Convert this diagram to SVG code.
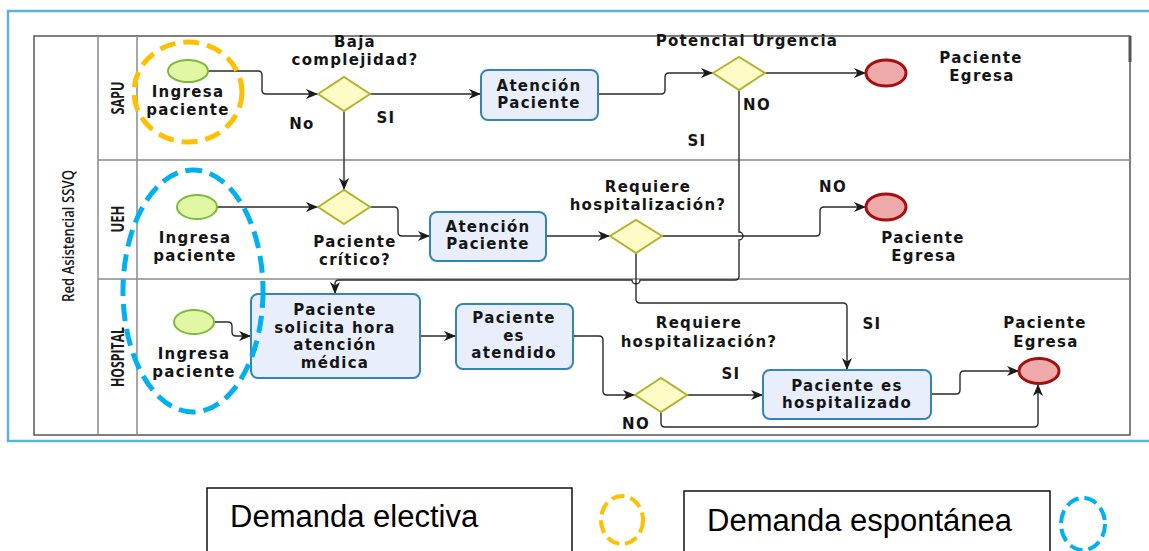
<svg xmlns="http://www.w3.org/2000/svg" width="1149" height="551" viewBox="0 0 1149 551">
  <style>
    .frame { fill: none; stroke: #5ab4d2; stroke-width: 2.5; }
    .pool { fill: #ffffff; stroke: #555555; stroke-width: 1.5; }
    .lane { stroke: #8a8a8a; stroke-width: 1.5; fill: none; }
    .start { fill: #e2f7a4; stroke: #7dba3c; stroke-width: 2; }
    .end { fill: #eeaaaa; stroke: #a50f0f; stroke-width: 3; }
    .gw { fill: #fdfcc6; stroke: #b4b22e; stroke-width: 2; }
    .task { fill: #e8eefc; stroke: #3385b5; stroke-width: 2; }
    .lbl { font-family: "DejaVu Sans", sans-serif; font-weight: bold; font-size: 15px; letter-spacing: 1.3px; fill: #151515; text-anchor: middle; }
    .lane-lbl { font-family: "Open Sans", "DejaVu Sans", sans-serif; font-weight: bold; font-size: 17px; fill: #1a1a1a; text-anchor: middle; }
    .pool-lbl { font-family: "Open Sans", "DejaVu Sans", sans-serif; font-weight: 600; font-size: 17px; fill: #1a1a1a; text-anchor: middle; }
    .flow { fill: none; stroke: #2a2a2a; stroke-width: 1.4; }
    .arrow { marker-end: url(#arrow); }
    .ring-elec { fill: none; stroke: #ffc000; stroke-width: 5; stroke-dasharray: 16 8; }
    .ring-esp { fill: none; stroke: #00b0f0; stroke-width: 5; stroke-dasharray: 17 8; }
    .legend-box { fill: #ffffff; stroke: #111111; stroke-width: 1.5; }
    .legend-txt { font-family: "Liberation Sans", Arial, sans-serif; font-size: 31px; fill: #000000; }
  </style>
  <defs>
    <marker id="arrow" markerUnits="userSpaceOnUse" markerWidth="13" markerHeight="11" refX="12" refY="5" orient="auto">
      <path d="M0,0 L12,5 L0,10 L3.5,5 Z" fill="#1a1a1a"/>
    </marker>
  </defs>

  <rect width="1149" height="551" fill="#ffffff"/>

  <!-- outer frame -->
  <path class="frame" d="M1160,11 H8 V441 H1160"/>

  <!-- pool and lanes -->
  <g id="pool">
    <rect class="pool" x="34" y="36" width="1096" height="399"/>
    <line class="lane" x1="98" y1="36" x2="98" y2="435"/>
    <line class="lane" x1="137" y1="36" x2="137" y2="435"/>
    <line class="lane" x1="98" y1="160" x2="1130" y2="160"/>
    <line class="lane" x1="98" y1="279" x2="1130" y2="279"/>
    <line x1="1130" y1="36" x2="1130" y2="62" stroke="#555555" stroke-width="3"/>
    <text class="pool-lbl" transform="translate(74,236) rotate(-90)" textLength="132" lengthAdjust="spacingAndGlyphs">Red Asistencial SSVQ</text>
    <text class="lane-lbl" transform="translate(124,98) rotate(-90)" textLength="33" lengthAdjust="spacingAndGlyphs">SAPU</text>
    <text class="lane-lbl" transform="translate(124,219) rotate(-90)" textLength="27" lengthAdjust="spacingAndGlyphs">UEH</text>
    <text class="lane-lbl" transform="translate(124,357) rotate(-90)" textLength="60" lengthAdjust="spacingAndGlyphs">HOSPITAL</text>
  </g>

  <!-- sequence flows -->
  <g id="connectors">
    <path class="flow arrow" d="M207,71 H258 q4,0 4,4 V90 q0,4 4,4 H318"/>
    <path class="flow arrow" d="M344,111 V190"/>
    <path class="flow arrow" d="M370,94 H481"/>
    <path class="flow arrow" d="M598,94 H661 q4,0 4,-4 V77 q0,-4 4,-4 H713"/>
    <path class="flow arrow" d="M765,73 H866"/>
    <path class="flow arrow" d="M739,90 V232 a4,4 0 0 1 0,8 V276 q0,4 -4,4 H640 a4,4 0 0 1 -8,0 H339 q-4,0 -4,4 V294"/>
    <path class="flow arrow" d="M217,207 H318"/>
    <path class="flow arrow" d="M370,207 H394 q4,0 4,4 V232 q0,4 4,4 H430"/>
    <path class="flow arrow" d="M546,236 H610"/>
    <path class="flow arrow" d="M662,236 H816 q4,0 4,-4 V211 q0,-4 4,-4 H866"/>
    <path class="flow arrow" d="M636,253 V299 q0,4 4,4 H843 q4,0 4,4 V370"/>
    <path class="flow arrow" d="M214,322 H228 q4,0 4,4 V332 q0,4 4,4 H251"/>
    <path class="flow arrow" d="M420,336 H456"/>
    <path class="flow arrow" d="M573,336 H599 q4,0 4,4 V391 q0,4 4,4 H635"/>
    <path class="flow arrow" d="M687,395 H763"/>
    <path class="flow arrow" d="M931,394 H956 q4,0 4,-4 V375 q0,-4 4,-4 H1019"/>
    <path class="flow arrow" d="M661,412 V423 q0,4 4,4 H1034 q4,0 4,-4 V384"/>
  </g>

  <!-- SAPU lane -->
  <g id="sapu-start">
    <ellipse class="start" cx="188" cy="71" rx="20" ry="11"/>
    <text class="lbl"><tspan x="188" y="97">Ingresa</tspan><tspan x="188" y="115">paciente</tspan></text>
  </g>
  <g id="sapu-gw-complejidad">
    <polygon class="gw" points="318,94 344,77 370,94 344,111"/>
    <text class="lbl"><tspan x="355" y="47">Baja</tspan><tspan x="355" y="65">complejidad?</tspan></text>
    <text class="lbl" x="302" y="129">No</text>
    <text class="lbl" x="386" y="123">SI</text>
  </g>
  <g id="sapu-task">
    <rect class="task" x="481" y="70" width="117" height="50" rx="7"/>
    <text class="lbl"><tspan x="539" y="91">Atención</tspan><tspan x="539" y="108">Paciente</tspan></text>
  </g>
  <g id="sapu-gw-urgencia">
    <polygon class="gw" points="713,73 739,57 765,73 739,90"/>
    <text class="lbl" x="747" y="46">Potencial Urgencia</text>
    <text class="lbl" x="757" y="110">NO</text>
    <text class="lbl" x="697" y="146">SI</text>
  </g>
  <g id="sapu-end">
    <ellipse class="end" cx="886" cy="73" rx="20" ry="13"/>
    <text class="lbl"><tspan x="981" y="63">Paciente</tspan><tspan x="982" y="81">Egresa</tspan></text>
  </g>

  <!-- UEH lane -->
  <g id="ueh-start">
    <ellipse class="start" cx="197" cy="207" rx="20" ry="12"/>
    <text class="lbl"><tspan x="195" y="243">Ingresa</tspan><tspan x="195" y="261">paciente</tspan></text>
  </g>
  <g id="ueh-gw-critico">
    <polygon class="gw" points="318,207 344,190 370,207 344,224"/>
    <text class="lbl"><tspan x="355" y="247">Paciente</tspan><tspan x="355" y="265">crítico?</tspan></text>
  </g>
  <g id="ueh-task">
    <rect class="task" x="430" y="212" width="116" height="49" rx="7"/>
    <text class="lbl"><tspan x="488" y="232">Atención</tspan><tspan x="488" y="249">Paciente</tspan></text>
  </g>
  <g id="ueh-gw-hosp">
    <polygon class="gw" points="610,236 636,220 662,236 636,253"/>
    <text class="lbl"><tspan x="648" y="192">Requiere</tspan><tspan x="648" y="210">hospitalización?</tspan></text>
    <text class="lbl" x="833" y="192">NO</text>
    <text class="lbl" x="872" y="329">SI</text>
  </g>
  <g id="ueh-end">
    <ellipse class="end" cx="886" cy="207" rx="20" ry="13"/>
    <text class="lbl"><tspan x="923" y="243">Paciente</tspan><tspan x="924" y="261">Egresa</tspan></text>
  </g>

  <!-- HOSPITAL lane -->
  <g id="hosp-start">
    <ellipse class="start" cx="194" cy="322" rx="20" ry="12"/>
    <text class="lbl"><tspan x="194" y="359">Ingresa</tspan><tspan x="194" y="377">paciente</tspan></text>
  </g>
  <g id="hosp-task-solicita">
    <rect class="task" x="251" y="294" width="169" height="84" rx="7"/>
    <text class="lbl"><tspan x="335" y="315">Paciente</tspan><tspan x="335" y="332.5">solicita hora</tspan><tspan x="335" y="350">atención</tspan><tspan x="335" y="367.5">médica</tspan></text>
  </g>
  <g id="hosp-task-atendido">
    <rect class="task" x="456" y="304" width="117" height="65" rx="7"/>
    <text class="lbl"><tspan x="514" y="323">Paciente</tspan><tspan x="514" y="341">es</tspan><tspan x="514" y="358">atendido</tspan></text>
  </g>
  <g id="hosp-gw">
    <polygon class="gw" points="635,395 661,378 687,395 661,412"/>
    <text class="lbl"><tspan x="699" y="328">Requiere</tspan><tspan x="699" y="347">hospitalización?</tspan></text>
    <text class="lbl" x="731" y="379">SI</text>
    <text class="lbl" x="636" y="429">NO</text>
  </g>
  <g id="hosp-task-hospitalizado">
    <rect class="task" x="763" y="370" width="168" height="49" rx="7"/>
    <text class="lbl"><tspan x="847" y="391">Paciente es</tspan><tspan x="847" y="408">hospitalizado</tspan></text>
  </g>
  <g id="hosp-end">
    <ellipse class="end" cx="1039" cy="371" rx="20" ry="12.5"/>
    <text class="lbl"><tspan x="1045" y="328">Paciente</tspan><tspan x="1046" y="347">Egresa</tspan></text>
  </g>

  <!-- demand highlights -->
  <g id="highlight-electiva">
    <ellipse class="ring-elec" cx="188" cy="92" rx="54" ry="50"/>
  </g>
  <g id="highlight-espontanea">
    <ellipse class="ring-esp" cx="193" cy="291" rx="70" ry="121"/>
  </g>

  <!-- legend -->
  <g id="legend-electiva">
    <rect class="legend-box" x="207" y="488" width="365" height="90"/>
    <text class="legend-txt" x="230" y="527">Demanda electiva</text>
    <ellipse cx="622" cy="520" rx="21" ry="24" fill="none" stroke="#ffc000" stroke-width="4" stroke-dasharray="13 6"/>
  </g>
  <g id="legend-espontanea">
    <rect class="legend-box" x="684" y="491" width="366" height="90"/>
    <text class="legend-txt" x="707" y="531">Demanda espontánea</text>
    <ellipse cx="1083" cy="524" rx="22" ry="26" fill="none" stroke="#00b0f0" stroke-width="4" stroke-dasharray="13 6"/>
  </g>
</svg>
